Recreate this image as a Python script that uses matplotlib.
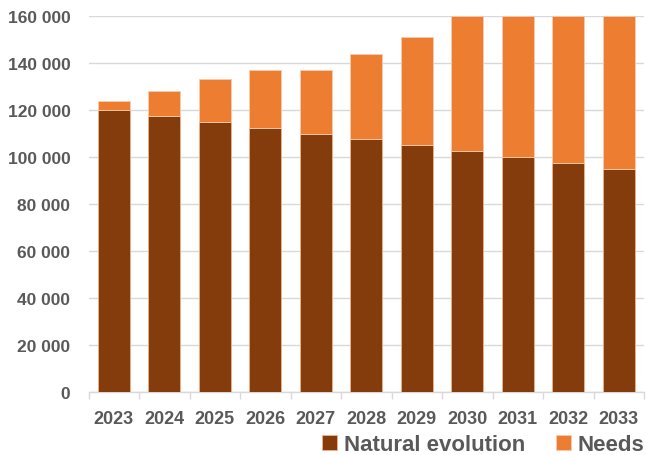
import matplotlib.pyplot as plt
import numpy as np
from matplotlib.ticker import FuncFormatter, FixedLocator

years = ["2023", "2024", "2025", "2026", "2027", "2028", "2029", "2030", "2031", "2032", "2033"]
natural = [120000, 117500, 115000, 112500, 110000, 107500, 105000, 102500, 100000, 97500, 95000]
needs = [4000, 10500, 18000, 24500, 27000, 36500, 46000, 57500, 60000, 62500, 65000]

brown = "#843C0C"
orange = "#ED7D31"
grey_txt = "#595959"
grid_c = "#D9D9D9"

plt.rcParams["font.family"] = ["Liberation Sans", "DejaVu Sans"]

fig = plt.figure(figsize=(6.46, 4.56), dpi=100)
ax = fig.add_axes([88.5 / 646, 1 - 393 / 456, 555.5 / 646, 376 / 456])

x = np.arange(len(years))
ax.bar(x, natural, width=0.634, color=brown, edgecolor="#F4B183", linewidth=0.6,
       label="Natural evolution", zorder=3)
ax.bar(x, needs, width=0.634, bottom=natural, color=orange, edgecolor="#F8CBAD",
       linewidth=0.6, label="Needs", zorder=3)

ax.set_xlim(-0.5, len(years) - 0.5)
ax.set_ylim(0, 160000)
ax.set_yticks(np.arange(0, 160001, 20000))
ax.yaxis.set_major_formatter(FuncFormatter(lambda v, p: f"{int(v):,}".replace(",", " ")))
ax.grid(axis="y", color=grid_c, linewidth=1, zorder=0)

ax.set_xticks(x)
ax.set_xticklabels(years)
ax.xaxis.set_minor_locator(FixedLocator(np.arange(-0.5, len(years), 1.0)))
ax.tick_params(axis="x", which="major", length=0, pad=13, labelsize=13, labelcolor=grey_txt)
ax.tick_params(axis="x", which="minor", length=5, color=grid_c, width=1)
ax.tick_params(axis="y", length=0, pad=13, labelsize=12.5, labelcolor=grey_txt)
for lab in ax.get_xticklabels() + ax.get_yticklabels():
    lab.set_fontweight("bold")

for s in ["left", "right", "top"]:
    ax.spines[s].set_visible(False)
ax.spines["bottom"].set_color(grid_c)
ax.spines["bottom"].set_linewidth(1)

h, l = ax.get_legend_handles_labels()
fig.legend(h, l, loc="center", bbox_to_anchor=(0.748, 1 - 446 / 456), ncol=2,
           frameon=False, prop={"size": 16, "weight": "bold"}, labelcolor=grey_txt,
           handlelength=0.68, handleheight=0.68, handletextpad=0.3, columnspacing=1.4,
           borderpad=0, borderaxespad=0)

fig.savefig("out.png", dpi=100)
